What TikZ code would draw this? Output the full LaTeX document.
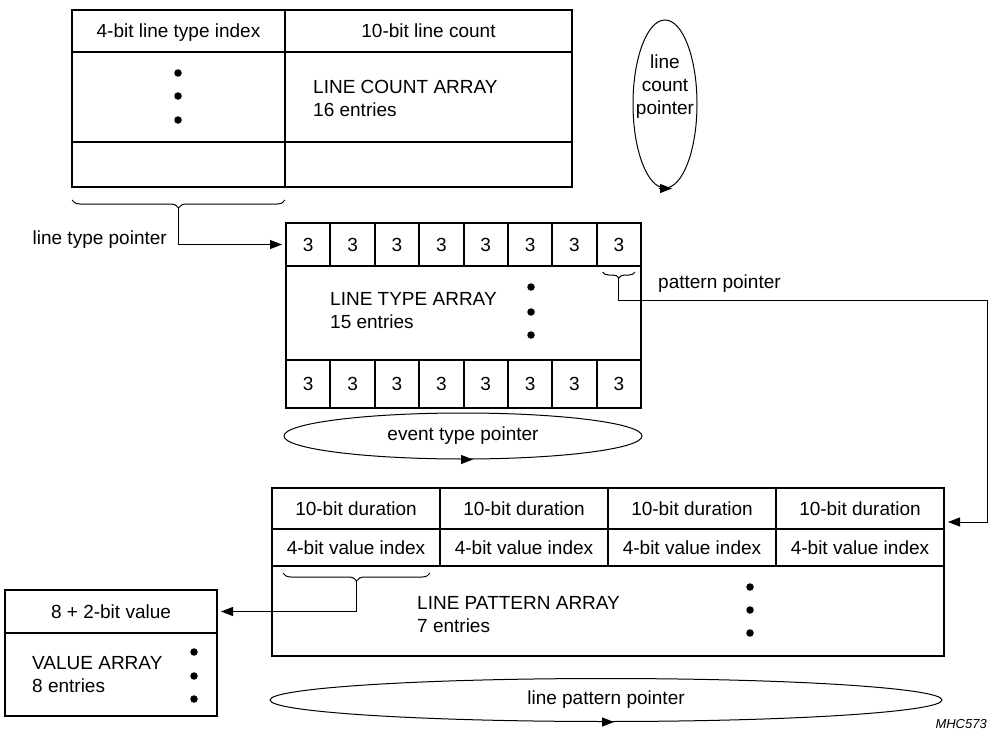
\documentclass[tikz,border=0pt]{standalone}
\usepackage{fontspec}
\setmainfont{Liberation Sans}
\usetikzlibrary{shapes.geometric,positioning,calc}
\usetikzlibrary{matrix,arrows.meta}
\usetikzlibrary{decorations.pathreplacing}

\tikzset{
    arrbox/.style={draw, line width=2pt, inner sep=0pt, outer sep=0pt, text depth=0pt, anchor=north west},
    dot/.style={circle, fill, inner sep=0pt, minimum size=7.5pt},
    brace/.style={decorate, decoration={brace, amplitude=#1, mirror}, line width=1pt},
    link/.style={line width=1pt, -{Triangle[length=12pt,width=9pt]}, shorten >=4pt},
    ptrloop/.style={draw, ellipse, line width=1pt, inner sep=0pt},
    looptip/.style={line width=1pt, -{Triangle[length=12pt,width=9pt]}},
    cellrow/.style={matrix of nodes, anchor=north west, inner sep=0pt, outer sep=0pt,
        column sep=-2pt, row sep=-2pt,
        nodes={draw, line width=2pt, outer sep=0pt, inner sep=0pt}}
}

\begin{document}
\begin{tikzpicture}[x=1pt, y=-1pt, font=\fontsize{19}{23}\selectfont]
    \useasboundingbox (0,0) rectangle (994,731);

    % Line count array
    \node[arrbox, minimum width=213pt, minimum height=42pt] (lcIdx) at (72,10) {4-bit line type index};
    \node[arrbox, minimum width=287pt, minimum height=42pt] (lcCnt) at (285,10) {10-bit line count};
    \node[arrbox, minimum width=213pt, minimum height=90pt] (lcIdxMid) at (72,52) {};
    \node[arrbox, minimum width=287pt, minimum height=90pt] (lcCntMid) at (285,52) {};
    \node[arrbox, minimum width=213pt, minimum height=45pt] (lcIdxEnd) at (72,142) {};
    \node[arrbox, minimum width=287pt, minimum height=45pt] (lcCntEnd) at (285,142) {};
    \foreach \y in {73,96,120}
        \node[dot] (lcDot\y) at (178,\y) {};
    \node[anchor=west, align=left, inner sep=0pt] (lcTxt) at (313,98.5) {LINE COUNT ARRAY\\16 entries};

    % Line count pointer
    \node[ptrloop, minimum width=64pt, minimum height=168pt] (lcPtr) at (665,104) {};
    \node[align=center, inner sep=0pt] (lcPtrTxt) at (665,87) {line\\count\\pointer};
    \draw[looptip] ([xshift=-6pt]lcPtr.south) -- ([xshift=7pt]lcPtr.south);

    % Line type array
    \node[arrbox, minimum width=355pt, minimum height=185pt] (lta) at (286,223) {};
    \matrix (LT) [cellrow, nodes={minimum width=44.375pt, minimum height=43pt}] at (285,222) {
        3 & 3 & 3 & 3 & 3 & 3 & 3 & 3\\
    };
    \matrix (LTend) [cellrow, nodes={minimum width=44.375pt, minimum height=48pt}] at (285,359) {
        3 & 3 & 3 & 3 & 3 & 3 & 3 & 3\\
    };
    \node[anchor=west, align=left, inner sep=0pt] (ltTxt) at (330,310.5) {LINE TYPE ARRAY\\15 entries};
    \foreach \y in {287,312,335}
        \node[dot] (ltDot\y) at (531,\y) {};

    % Brace for line type pointer
    \draw[brace=8pt] ([yshift=-13pt]lcIdxEnd.south west) -- ([yshift=-13pt]lcIdxEnd.south east)
        coordinate[midway, yshift=-8pt] (ltpB);
    \draw[link] (ltpB) |- (LT-1-1.west);
    \node[anchor=east, inner sep=0pt] (ltpTxt) at (167,240) {line type pointer};

    % Event type pointer
    \node[ptrloop, minimum width=358pt, minimum height=46pt] (etPtr) at (463,436) {event type pointer};
    \draw[looptip] ([xshift=-2pt]etPtr.south) -- ([xshift=10pt]etPtr.south);

    % Line pattern array
    \node[arrbox, minimum width=672pt, minimum height=168pt] (lpa) at (272,488) {};
    \matrix (LP) [cellrow, nodes={minimum width=168pt},
        row 1/.style={nodes={minimum height=41pt}},
        row 2/.style={nodes={minimum height=37pt}}] at (271,487) {
        10-bit duration & 10-bit duration & 10-bit duration & 10-bit duration\\
        4-bit value index & 4-bit value index & 4-bit value index & 4-bit value index\\
    };
    \node[anchor=west, align=left, inner sep=0pt] (lpTxt) at (417,614.5) {LINE PATTERN ARRAY\\7 entries};
    \foreach \y in {587,610,633}
        \node[dot] (lpDot\y) at (750,\y) {};

    % Brace for pattern pointer
    \draw[brace=6pt] ([xshift=6pt, yshift=-6pt]LT-1-8.south west) -- ([xshift=-6pt, yshift=-6pt]LT-1-8.south east)
        coordinate[midway, yshift=-6pt] (ppB);
    \coordinate (ppTurn) at (987,522);
    \draw[link] (ppB) -- ++(0,22) -| (ppTurn) -- (lpa.east |- ppTurn);
    \node[anchor=west, inner sep=0pt] (ppTxt) at (658,284) {pattern pointer};

    % Value array
    \node[arrbox, minimum width=212pt, minimum height=126pt] (va) at (5,590) {};
    \node[arrbox, minimum width=212pt, minimum height=43pt] (vaHead) at (5,590) {8 + 2-bit value};
    \node[anchor=west, align=left, inner sep=0pt] (vaTxt) at (32,674.5) {VALUE ARRAY\\8 entries};
    \foreach \y in {652,676,699}
        \node[dot] (vaDot\y) at (194,\y) {};

    % Brace for value pointer
    \draw[brace=8pt] ([xshift=11pt, yshift=-7pt]LP-2-1.south west) -- ([xshift=-10pt, yshift=-7pt]LP-2-1.south east)
        coordinate[midway, yshift=-8pt] (vpB);
    \draw[link] (vpB) |- (vaHead.east);

    % Line pattern pointer
    \node[ptrloop, minimum width=672pt, minimum height=43pt] (lpPtr) at (606,700) {line pattern pointer};
    \draw[looptip] ([xshift=-4pt]lpPtr.south) -- ([xshift=8pt]lpPtr.south);

    \node[anchor=base east, inner sep=0pt, font=\fontsize{13}{15}\selectfont\itshape] (fig) at (987,728) {MHC573};
\end{tikzpicture}
\end{document}
